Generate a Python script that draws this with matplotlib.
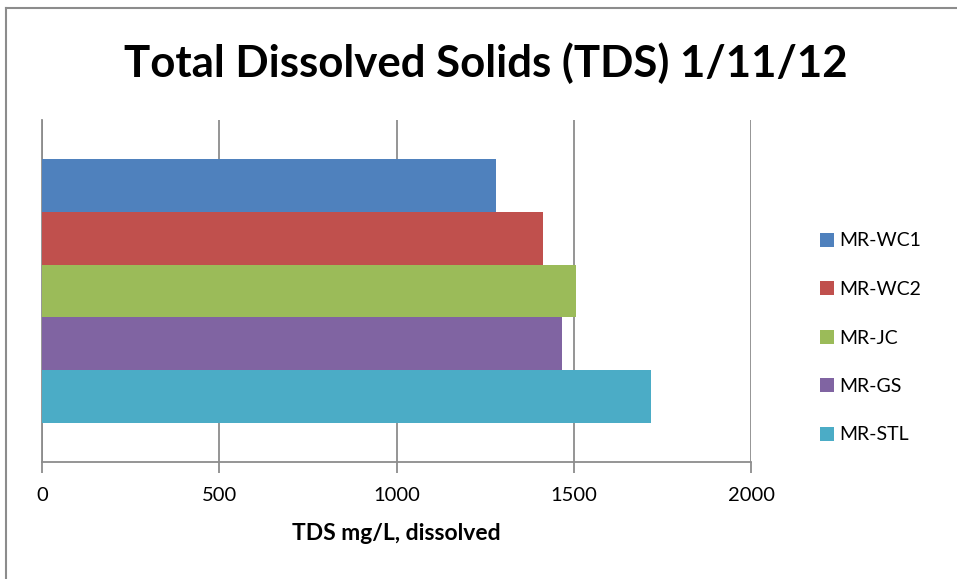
import numpy as np
import matplotlib
matplotlib.use("Agg")
import matplotlib.pyplot as plt
from matplotlib.lines import Line2D
from matplotlib.patches import Patch

# Data
sites = ["MR-WC1", "MR-WC2", "MR-JC", "MR-GS", "MR-STL"]
tds_values = [1281, 1413, 1506, 1467, 1718]
colors = ["#4F81BD", "#C0504D", "#9BBB59", "#8064A2", "#4BACC6"]
x_ticks = [0, 500, 1000, 1500, 2000]

plt.rcParams['font.family'] = ['Lato', 'DejaVu Sans']
grey = "#8c8c8c"

fig = plt.figure(figsize=(9.57, 5.79), dpi=100)
ax = fig.add_axes([42 / 957, 1 - 462 / 579, (751 - 42) / 957, (462 - 120) / 579])

# one category, five series stacked as a cluster
pos = np.arange(len(sites))
ax.barh(pos, tds_values, height=1.0, color=colors, zorder=3)

ax.set_xlim(0, 2000)
ax.set_ylim(len(sites) - 0.5 + 0.75, -0.5 - 0.75)
ax.set_xticks(x_ticks)
ax.set_xticklabels([str(t) for t in x_ticks], fontsize=14.5)
ax.set_yticks([])
ax.xaxis.grid(True, color=grey, linewidth=1.3, zorder=0)
ax.tick_params(axis='x', direction='out', length=8, width=1.3, color=grey, pad=10)

for side in ["top", "right"]:
    ax.spines[side].set_visible(False)
for side in ["left", "bottom"]:
    ax.spines[side].set_color(grey)
    ax.spines[side].set_linewidth(1.3)

ax.set_xlabel("TDS mg/L, dissolved", fontsize=16.5, fontweight='bold', labelpad=14)

fig.text(486 / 957, 1 - 63 / 579, "Total Dissolved Solids (TDS) 1/11/12",
         ha='center', va='center', fontsize=31.5, fontweight='bold')

handles = [Patch(facecolor=c) for c in colors]
fig.legend(handles, sites, loc='center left', bbox_to_anchor=(812 / 957, 1 - 338 / 579),
           frameon=False, fontsize=14, handlelength=0.75, handleheight=0.75,
           handletextpad=0.25, labelspacing=1.62, borderaxespad=0)

# outer chart border (left and top visible)
fig.add_artist(Line2D([6 / 957, 6 / 957], [0, 1 - 8 / 579], color=grey, linewidth=1.5))
fig.add_artist(Line2D([6 / 957, 1], [1 - 8 / 579, 1 - 8 / 579], color=grey, linewidth=1.5))

fig.savefig("out.png", dpi=100)
